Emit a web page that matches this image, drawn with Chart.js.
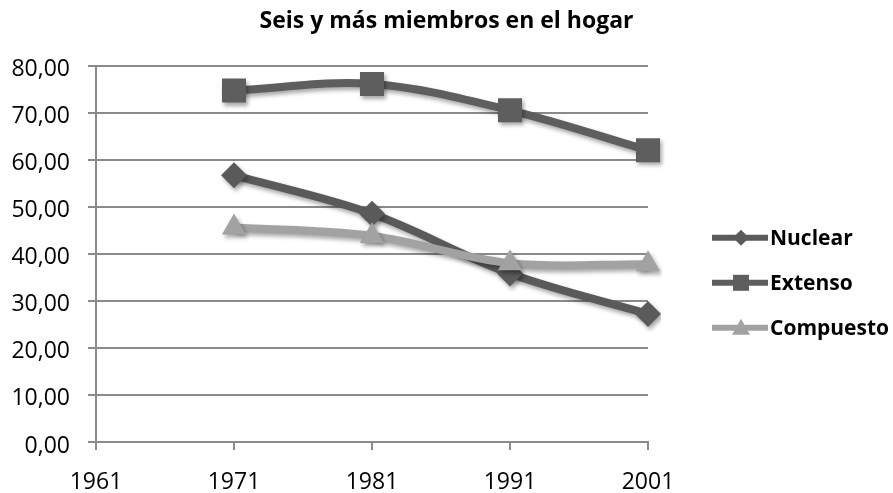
<!DOCTYPE html>
<html>
<head>
<meta charset="utf-8">
<script src="https://cdn.jsdelivr.net/npm/chart.js@4.4.1/dist/chart.umd.min.js"></script>
<style>
  html, body { margin: 0; padding: 0; background: #fff; }
  #wrap { width: 893px; height: 493px; }
</style>
</head>
<body>
<div id="wrap"><canvas id="chart" width="893" height="493"></canvas></div>
<script>
// data
const years = ['1961', '1971', '1981', '1991', '2001'];
const nuclear = [null, 56.7, 48.5, 35.8, 27.2];
const extenso = [null, 74.7, 76.1, 70.5, 62.0];
const compuesto = [null, 45.6, 43.8, 38.0, 37.8];
const seriesNames = ['Nuclear', 'Extenso', 'Compuesto'];
const yTicks = [0, 10, 20, 30, 40, 50, 60, 70, 80];

const colors = ['#5a5a5a', '#5e5e5e', '#a2a2a2'];
const markers = ['rectRot', 'rect', 'triangle'];
const markerSize = [13, 17, 14];

const shadowPlugin = {
    id: 'shadow',
    beforeDatasetsDraw(chart) {
        const ctx = chart.ctx;
        ctx.save();
        ctx.shadowColor = 'rgba(0,0,0,0.35)';
        ctx.shadowBlur = 4;
        ctx.shadowOffsetX = 2;
        ctx.shadowOffsetY = 3;
    },
    afterDatasetsDraw(chart) {
        chart.ctx.restore();
    }
};

// legend on the right: line + marker, then bold label (Excel style)
const sideLegend = {
    id: 'sideLegend',
    afterDraw(chart) {
        const ctx = chart.ctx;
        const area = chart.chartArea;
        const x0 = area.right + 64;
        const mid = (area.top + area.bottom) / 2 + 29;
        const rowGap = 45;
        ctx.save();
        chart.data.datasets.forEach((ds, i) => {
            const y = mid + (i - 1) * rowGap;
            const color = colors[i];
            ctx.strokeStyle = color;
            ctx.fillStyle = color;
            ctx.lineWidth = 6;
            ctx.beginPath();
            ctx.moveTo(x0, y);
            ctx.lineTo(x0 + 56, y);
            ctx.stroke();
            const cx = x0 + 29;
            ctx.beginPath();
            if (markers[i] === 'rectRot') {
                ctx.moveTo(cx, y - 8); ctx.lineTo(cx + 8, y); ctx.lineTo(cx, y + 8); ctx.lineTo(cx - 8, y);
            } else if (markers[i] === 'rect') {
                ctx.rect(cx - 8, y - 8, 16, 16);
            } else {
                ctx.moveTo(cx, y - 9); ctx.lineTo(cx + 9, y + 7); ctx.lineTo(cx - 9, y + 7);
            }
            ctx.closePath();
            ctx.fill();
            ctx.fillStyle = '#000';
            ctx.font = 'bold 21px "Open Sans"';
            ctx.textAlign = 'left';
            ctx.textBaseline = 'middle';
            ctx.fillText(ds.label, x0 + 58, y + 1);
        });
        ctx.restore();
    }
};

const allValues = [nuclear, extenso, compuesto];
const datasets = seriesNames.map((name, i) => ({
    label: name,
    data: allValues[i],
    borderColor: colors[i],
    backgroundColor: colors[i],
    borderWidth: 8,
    tension: 0.35,
    pointStyle: markers[i],
    pointRadius: markerSize[i],
    pointBorderWidth: 0,
    order: 2 - i
}));

new Chart(document.getElementById('chart'), {
    type: 'line',
    data: { labels: years, datasets: datasets },
    plugins: [shadowPlugin, sideLegend],
    options: {
        responsive: false,
        animation: false,
        layout: { padding: { left: 0, right: 0, top: 0, bottom: 0 } },
        plugins: {
            title: {
                display: true,
                text: 'Seis y más miembros en el hogar',
                color: '#000',
                font: { family: 'Open Sans', size: 23, weight: 'bold' },
                padding: { top: 8, bottom: 30 }
            },
            legend: { display: false },
            tooltip: { enabled: false }
        },
        scales: {
            x: {
                offset: false,
                afterFit(scale) {
                    // room on the right for the legend, fixed axis band height
                    scale.paddingRight = 245;
                    scale.height = 51;
                },
                grid: {
                    drawOnChartArea: false,
                    drawTicks: true,
                    tickLength: 8,
                    color: '#8a8a8a',
                    lineWidth: 2
                },
                border: { color: '#8a8a8a', width: 2 },
                ticks: {
                    color: '#000',
                    padding: 19,
                    maxRotation: 0,
                    font: { family: 'Open Sans', size: 23 }
                }
            },
            y: {
                min: yTicks[0],
                max: yTicks[yTicks.length - 1],
                afterBuildTicks(scale) {
                    scale.ticks = yTicks.map(v => ({ value: v }));
                },
                afterFit(scale) {
                    scale.width = 96;
                },
                grid: {
                    color: '#8a8a8a',
                    lineWidth: 2,
                    tickLength: 8
                },
                border: { color: '#8a8a8a', width: 2 },
                ticks: {
                    color: '#000',
                    padding: 18,
                    labelOffset: 4,
                    font: { family: 'Open Sans', size: 23 },
                    callback: v => v.toFixed(2).replace('.', ',')
                }
            }
        }
    }
});
</script>
</body>
</html>
